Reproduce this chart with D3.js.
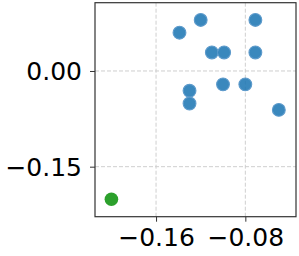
<!DOCTYPE html>
<head>
  <meta charset="utf-8">
  <script src="https://d3js.org/d3.v7.min.js"></script>
  <style>
    body { margin:0; background:white; font-family: "DejaVu Sans", sans-serif; }
  </style>
</head>
<body>
  <script>
    // scatter values
    var blueX = [-0.139, -0.120, -0.071, -0.110, -0.099, -0.071, -0.100, -0.080, -0.130, -0.130, -0.050];
    var blueY = [0.060, 0.080, 0.080, 0.029, 0.029, 0.029, -0.021, -0.021, -0.031, -0.051, -0.061];
    var greenX = [-0.200];
    var greenY = [-0.201];
    var xTicks = [-0.16, -0.08];
    var yTicks = [0.00, -0.15];

    var svg = d3.select("body").append("svg")
      .attr("width", 299)
      .attr("height", 256)

    var pLeft = 95, pRight = 296, pTop = 2.7, pBottom = 216.7;

    var x = d3.scaleLinear().domain([-0.2147, -0.0346]).range([pLeft, pRight])
    var y = d3.scaleLinear().domain([-0.2284, 0.107]).range([pBottom, pTop])

    var fmt = function(d) { return d3.format(".2f")(d).replace("-", "\u2212"); }

    // grid
    svg.selectAll(".gx").data(xTicks).enter().append("line")
      .attr("x1", function(d) { return x(d); }).attr("x2", function(d) { return x(d); })
      .attr("y1", pTop).attr("y2", pBottom)
      .attr("stroke", "#cfcfcf").attr("stroke-width", 1).attr("stroke-dasharray", "4,2")
    svg.selectAll(".gy").data(yTicks).enter().append("line")
      .attr("y1", function(d) { return y(d); }).attr("y2", function(d) { return y(d); })
      .attr("x1", pLeft).attr("x2", pRight)
      .attr("stroke", "#cfcfcf").attr("stroke-width", 1).attr("stroke-dasharray", "4,2")

    var xAxis = d3.axisBottom(x).tickValues(xTicks).tickFormat(fmt).tickSize(5).tickPadding(7)
    var yAxis = d3.axisLeft(y).tickValues(yTicks).tickFormat(fmt).tickSize(5).tickPadding(8)

    var gx = svg.append("g").attr("transform", "translate(0," + pBottom + ")").call(xAxis)
    var gy = svg.append("g").attr("transform", "translate(" + pLeft + ",0)").call(yAxis)
    gx.select(".domain").remove()
    gy.select(".domain").remove()
    svg.selectAll(".tick line").attr("stroke", "#333")
    svg.selectAll(".tick text")
      .attr("font-family", "DejaVu Sans")
      .attr("font-size", 25)
      .attr("fill", "#000")
    gy.selectAll(".tick text").attr("dy", "0.36em")

    // points
    var blue = blueX.map(function(v, i) { return [v, blueY[i]]; })
    var green = greenX.map(function(v, i) { return [v, greenY[i]]; })

    svg.selectAll(".b").data(blue).enter().append("circle")
      .attr("cx", function(d) { return x(d[0]); })
      .attr("cy", function(d) { return y(d[1]); })
      .attr("r", 6.4)
      .attr("fill", "#1f77b4").attr("fill-opacity", 0.88)
      .attr("stroke", "#5d9acb").attr("stroke-width", 1.1)

    svg.selectAll(".g").data(green).enter().append("circle")
      .attr("cx", function(d) { return x(d[0]); })
      .attr("cy", function(d) { return y(d[1]); })
      .attr("r", 6.8)
      .attr("fill", "#2ca02c")

    // frame
    svg.append("rect")
      .attr("x", pLeft).attr("y", pTop)
      .attr("width", pRight - pLeft).attr("height", pBottom - pTop)
      .attr("fill", "none").attr("stroke", "#333").attr("stroke-width", 1.2)
  </script>
</body>
